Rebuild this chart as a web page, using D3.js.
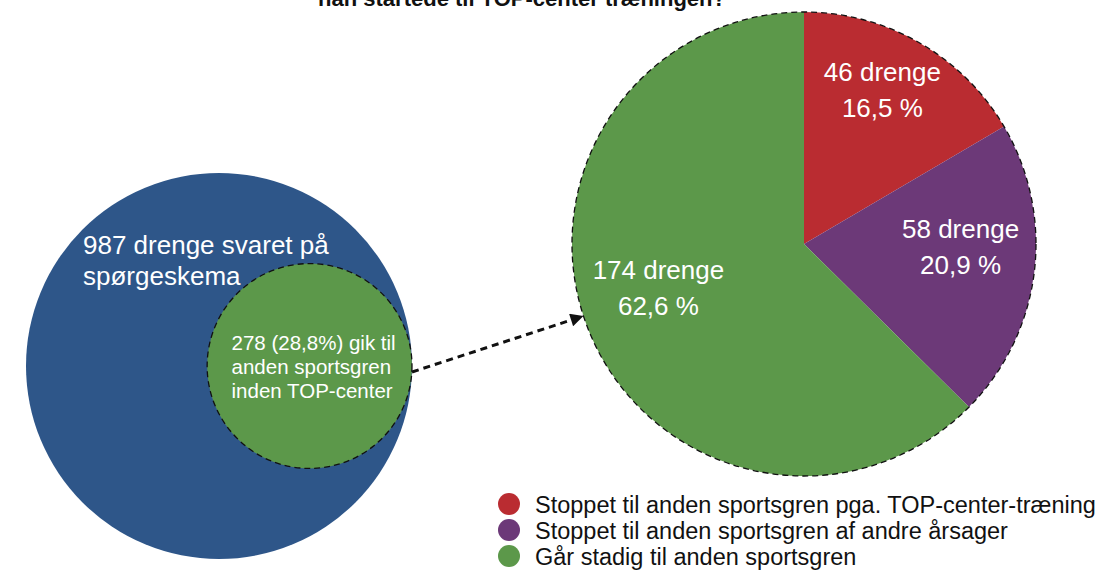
<!DOCTYPE html>
<html>
<head>
<meta charset="utf-8">
<script src="https://cdn.jsdelivr.net/npm/d3@7"></script>
<style>
  html, body { margin: 0; padding: 0; background: #fff; }
  svg text { font-family: "Helvetica Neue", Helvetica, Arial, "Liberation Sans", sans-serif; }
</style>
</head>
<body>
<div id="container"></div>
<script>
/* DATA */
const titleLine = "han startede til TOP-center træningen?"
const totalBoys = 987
const movedBoys = 278
const surveyLabel = ["987 drenge svaret på", "spørgeskema"]
const movedLabel = ["278 (28,8%) gik til", "anden sportsgren", "inden TOP-center"]

const categories = [
  "Stoppet til anden sportsgren pga. TOP-center-træning",
  "Stoppet til anden sportsgren af andre årsager",
  "Går stadig til anden sportsgren"
]
const counts = [46, 58, 174]
const countLabels = ["46 drenge", "58 drenge", "174 drenge"]
const percentLabels = ["16,5 %", "20,9 %", "62,6 %"]

/* CONSTANTS */
const width = 1111,
  height = 571

const blue = "#2E5689"
const color = d3.scaleOrdinal()
  .domain(categories)
  .range(["#BA2C31", "#6C3978", "#5C984A"])

const svg = d3.select("#container")
  .append("svg")
  .attr("width", width)
  .attr("height", height)

// title (first line sits above the picture)
svg.append("text")
  .attr("x", 522)
  .attr("y", 6)
  .attr("text-anchor", "middle")
  .style("font-weight", "bold")
  .style("font-size", "22px")
  .attr("fill", "#111")
  .text(titleLine)

/* LEFT: survey circle with the sub group inside */
const rScale = d3.scaleSqrt()
  .domain([0, totalBoys])
  .range([0, 193])

const outer = { x: 219, y: 366, r: rScale(totalBoys) }
const innerR = rScale(movedBoys)
const inner = { x: outer.x + outer.r - innerR, y: outer.y, r: innerR }

svg.append("circle")
  .attr("cx", outer.x)
  .attr("cy", outer.y)
  .attr("r", outer.r)
  .attr("fill", blue)

svg.append("text")
  .attr("fill", "#fff")
  .style("font-size", "26px")
  .selectAll("tspan")
  .data(surveyLabel)
  .join("tspan")
  .attr("x", outer.x - 136)
  .attr("y", (d, i) => outer.y - 112 + i * 31)
  .text(d => d)

svg.append("circle")
  .attr("cx", inner.x)
  .attr("cy", inner.y)
  .attr("r", inner.r)
  .attr("fill", color(categories[2]))
  .attr("stroke", "#111")
  .attr("stroke-width", 1.3)
  .attr("stroke-dasharray", "6,4")

svg.append("text")
  .attr("fill", "#fff")
  .style("font-size", "20.5px")
  .selectAll("tspan")
  .data(movedLabel)
  .join("tspan")
  .attr("x", inner.x - 78)
  .attr("y", (d, i) => inner.y - 16 + i * 24)
  .text(d => d)

/* RIGHT: pie */
const pieC = { x: 804, y: 244, r: 232 }

const pie = d3.pie().sort(null).value(d => d)
const arcs = pie(counts)
const arcGen = d3.arc().innerRadius(0).outerRadius(pieC.r)
const labelArc = d3.arc().innerRadius(pieC.r * 0.68).outerRadius(pieC.r * 0.68)

const pieG = svg.append("g")
  .attr("transform", `translate(${pieC.x}, ${pieC.y})`)

pieG.selectAll(".slice")
  .data(arcs)
  .join("path")
  .attr("class", "slice")
  .attr("fill", (d, i) => color(categories[i]))
  .attr("d", arcGen)

pieG.append("circle")
  .attr("r", pieC.r)
  .attr("fill", "none")
  .attr("stroke", "#111")
  .attr("stroke-width", 1.3)
  .attr("stroke-dasharray", "6,4")

const labels = pieG.selectAll(".plabel")
  .data(arcs)
  .join("text")
  .attr("class", "plabel")
  .attr("fill", "#fff")
  .attr("text-anchor", "middle")
  .style("font-size", "26px")

labels.append("tspan")
  .attr("x", d => labelArc.centroid(d)[0])
  .attr("y", d => labelArc.centroid(d)[1] - 26)
  .text((d, i) => countLabels[i])

labels.append("tspan")
  .attr("x", d => labelArc.centroid(d)[0])
  .attr("y", d => labelArc.centroid(d)[1] + 10)
  .text((d, i) => percentLabels[i])

/* ARROW from sub group to pie */
svg.append("defs")
  .append("marker")
  .attr("id", "head")
  .attr("viewBox", "0 0 10 10")
  .attr("refX", 10)
  .attr("refY", 5)
  .attr("markerUnits", "userSpaceOnUse")
  .attr("markerWidth", 16)
  .attr("markerHeight", 13)
  .attr("orient", "auto")
  .append("path")
  .attr("d", "M0,0L10,5L0,10z")
  .attr("fill", "#111")

const start = [inner.x + inner.r, inner.y + 6]
const dx = pieC.x - start[0], dy = pieC.y - start[1]
const dist = Math.hypot(dx, dy)
const t = (dist - pieC.r) / dist
const end = [start[0] + dx * t, start[1] + dy * t]

svg.append("line")
  .attr("x1", start[0])
  .attr("y1", start[1])
  .attr("x2", end[0])
  .attr("y2", end[1])
  .attr("stroke", "#111")
  .attr("stroke-width", 3)
  .attr("stroke-dasharray", "7,5")
  .attr("marker-end", "url(#head)")

/* LEGEND */
const legend = svg.selectAll(".legend")
  .data(categories)
  .join("g")
  .attr("class", "legend")
  .attr("transform", (d, i) => `translate(509, ${504 + i * 26})`)

legend.append("circle")
  .attr("r", 11)
  .attr("fill", d => color(d))

legend.append("text")
  .attr("x", 26)
  .attr("y", 9)
  .attr("fill", "#111")
  .style("font-size", "23.5px")
  .text(d => d)
</script>
</body>
</html>
